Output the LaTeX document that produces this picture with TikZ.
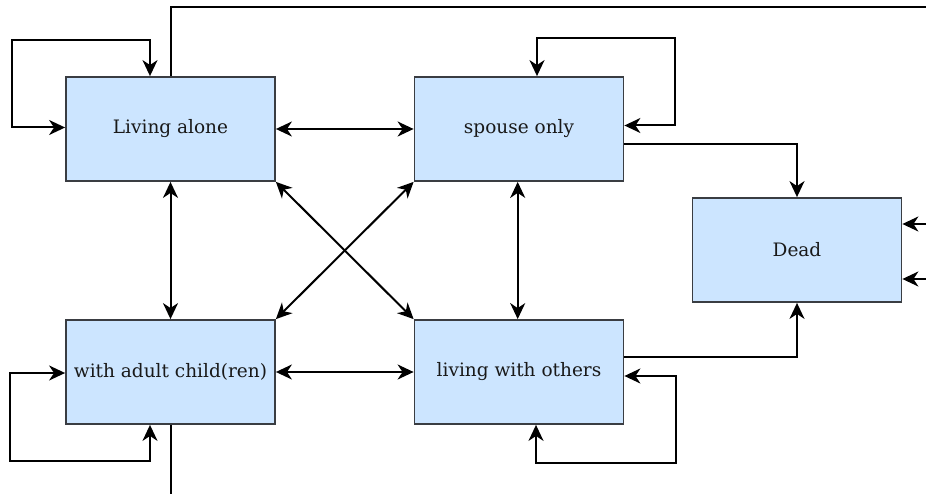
\documentclass[tikz,border=0pt]{standalone}
\usepackage{fontspec}
\setmainfont{DejaVu Serif}
\usetikzlibrary{arrows.meta}
\definecolor{boxfill}{HTML}{CCE5FF}
\definecolor{boxline}{HTML}{3A3D42}
\begin{document}
\begin{tikzpicture}[x=1pt,y=-1pt,
  state/.style={draw=boxline, line width=1.8pt, fill=boxfill, minimum width=209pt, minimum height=104pt, inner sep=0pt, font=\fontsize{18.5}{22}\selectfont, text=black!90},
  conn/.style={draw=black, line width=2pt, line join=miter},
  tip/.style={-{Stealth[length=16pt,width=15pt,inset=5pt]}},
  tips/.style={{Stealth[length=16pt,width=15pt,inset=5pt]}-{Stealth[length=16pt,width=15pt,inset=5pt]}}]
\useasboundingbox (0,0) rectangle (926,494);
\node[state] (LA) at (170.5,129) {Living alone};
\node[state] (SO) at (519,129) {spouse only};
\node[state] (D) at (797,250) {Dead};
\node[state] (C) at (170.5,372) {with adult child(ren)};
\node[state] (O) at (519,372) {living with others};
\coordinate (tr) at (926,7);
\coordinate (bl) at (170.5,494);
\coordinate (r1) at (926,224);
\coordinate (r2) at (926,279);
% self loops
\draw[conn,tips] ([xshift=-20.5pt]LA.north) |- (12,40) |- ([yshift=1.5pt]LA.west);
\draw[conn,tips] ([xshift=18pt]SO.north) |- (675,38) |- ([yshift=3.5pt]SO.east);
\draw[conn,tips] ([yshift=-1pt]C.west) -| (10,461) -| ([xshift=-20.5pt]C.south);
\draw[conn,tips] ([yshift=-4pt]O.east) -| (676,463) -| ([xshift=17pt]O.south);
% open lines
\draw[conn] (LA.north) |- (tr);
\draw[conn] (C.south) -- (bl);
% between states
\draw[conn,tips] (LA.east) -- (SO.west);
\draw[conn,tips] (C.east) -- (O.west);
\draw[conn,tips] (LA.south) -- (C.north);
\draw[conn,tips] ([xshift=-1.3pt]SO.south) -- ([xshift=-1.3pt]O.north);
\draw[conn,tips] (LA.south east) -- (O.north west);
\draw[conn,tips] (SO.south west) -- (C.north east);
% to Dead
\draw[conn,tip] ([yshift=-15pt]SO.east) -| (D.north);
\draw[conn,tip] ([yshift=15pt]O.east) -| (D.south);
\draw[conn,tip] (r1) -- (D.east |- r1);
\draw[conn,tip] (r2) -- (D.east |- r2);
\end{tikzpicture}
\end{document}
